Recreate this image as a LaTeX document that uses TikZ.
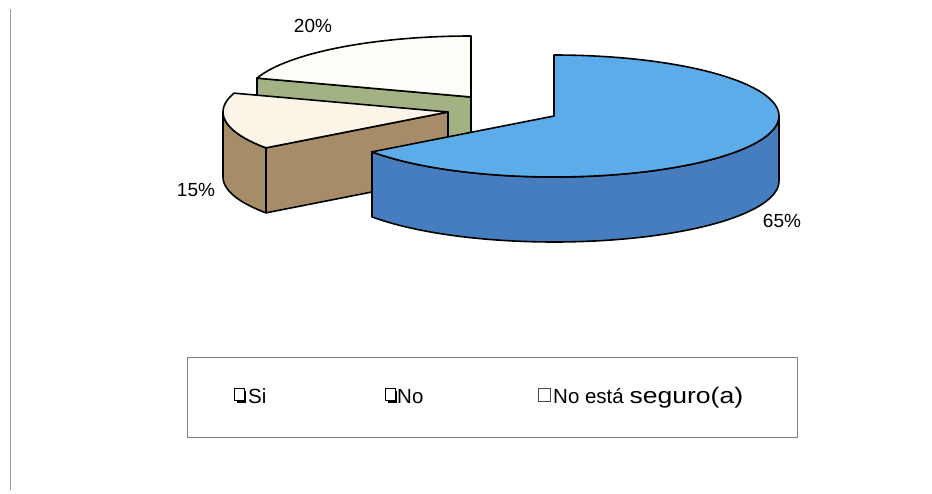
\documentclass[tikz,border=0pt]{standalone}
\usepackage{fontspec}
\setmainfont{Liberation Sans}
\usepackage{graphicx}
\definecolor{bluetop}{HTML}{5DACEA}
\definecolor{blueside}{HTML}{467DBE}
\definecolor{greenside}{HTML}{A3B282}
\definecolor{brownside}{HTML}{A68C69}
\definecolor{creamA}{HTML}{FEFDF7}
\definecolor{creamB}{HTML}{FAF5E6}
\definecolor{framegray}{HTML}{808080}
\tikzset{
  slice/.style={draw=black, line width=1.6pt, line join=round},
  pct/.style={font=\fontsize{19}{22}\selectfont, inner sep=0pt},
  legtext/.style={font=\fontsize{20.5}{23}\selectfont, inner sep=0pt, anchor=base west},
}
\begin{document}
\begin{tikzpicture}[x=1pt,y=-1pt]
\useasboundingbox (0,0) rectangle (932,493);
\fill[white] (0,0) rectangle (932,493);
% left rule
\draw[framegray!80, line width=1.5pt] (10.5,9) -- (10.5,490);

% ---------- 20% slice (centre 471,97) ----------
\coordinate (c20) at (471,97);
\filldraw[slice, fill=greenside] (c20) -- (257,78) -- (257,142) -- (471,161) -- cycle;
\filldraw[slice, fill=creamA] (c20) -- plot[domain=90:162, samples=40] ({471+225*cos(\x)},{97-61*sin(\x)}) -- cycle;

% ---------- 15% slice (centre 448,112) ----------
\coordinate (c15) at (448,112);
\filldraw[slice, fill=brownside] plot[domain=180:216, samples=20] ({448+225*cos(\x)},{112-61*sin(\x)})
   -- plot[domain=216:180, samples=20] ({448+225*cos(\x)},{177-61*sin(\x)}) -- cycle;
\filldraw[slice, fill=brownside] (c15) -- ({448+225*cos(216)},{112-61*sin(216)}) -- ({448+225*cos(216)},{177-61*sin(216)}) -- (448,177) -- cycle;
\filldraw[slice, fill=creamB] (c15) -- plot[domain=162:216, samples=30] ({448+225*cos(\x)},{112-61*sin(\x)}) -- cycle;

% ---------- 65% slice (centre 554,116) ----------
\coordinate (c65) at (554,116);
\filldraw[slice, fill=blueside] plot[domain=216:360, samples=60] ({554+225*cos(\x)},{116-61*sin(\x)})
   -- plot[domain=360:216, samples=60] ({554+225*cos(\x)},{181-61*sin(\x)}) -- cycle;
\filldraw[slice, fill=bluetop] (c65) -- plot[domain=90:-144, samples=100] ({554+225*cos(\x)},{116-61*sin(\x)}) -- cycle;

% ---------- percentage labels ----------
\node[pct] (l20) at (313,26) {20\%};
\node[pct] (l15) at (196,190) {15\%};
\node[pct] (l65) at (782,221) {65\%};

% ---------- legend ----------
\node[draw=framegray, line width=1pt, minimum width=610pt, minimum height=80pt, inner sep=0pt] (legend) at (492,397) {};
% Si
\fill[black] (236.5,391) rectangle (246,403);
\filldraw[fill=white, draw=black, line width=0.7pt] (234,388.5) rectangle (244,400);
\node[legtext] (si) at (248,403) {Si};
% No
\fill[black] (387.5,391) rectangle (397,403);
\filldraw[fill=white, draw=black, line width=0.7pt] (385,388.5) rectangle (395,400);
\node[legtext] (no) at (397,403) {No};
% No esta seguro(a)
\draw[black!70, line width=0.8pt] (538.5,388.5) rectangle (550.5,401.5);
\node[legtext] (ns) at (553,403) {No está \scalebox{1.18}[1]{\fontsize{22.5}{24}\selectfont seguro(a)}};
\end{tikzpicture}
\end{document}
